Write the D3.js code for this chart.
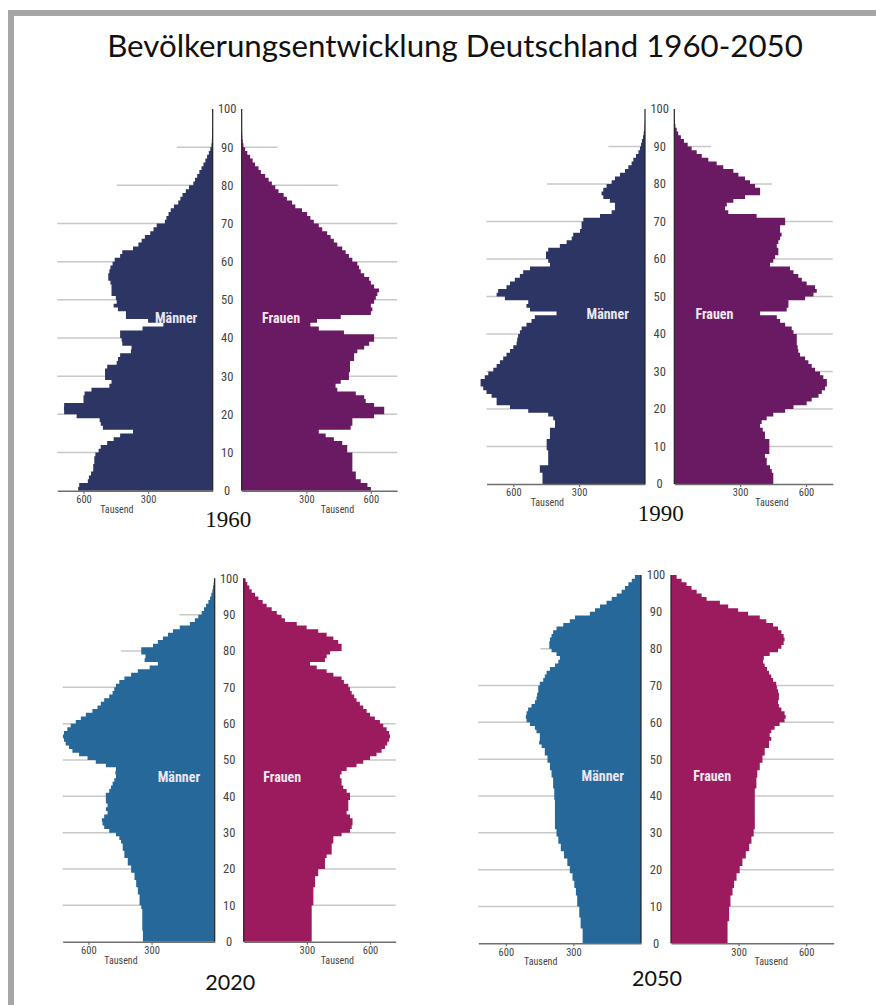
<!DOCTYPE html>
<html>
<head>
<meta charset="utf-8">
<script src="https://cdn.jsdelivr.net/npm/d3@7"></script>
<style>
  body { margin: 0; background: #fff; }
  svg { display: block; }
</style>
</head>
<body>
<svg id="chart"></svg>
<script>
// Population pyramids, Germany 1960 / 1990 / 2020 / 2050.
// Values are thousands of people per single year of age (0..99).

var title = 'Bevölkerungsentwicklung Deutschland 1960-2050'
var years = ['1960', '1990', '2020', '2050']
var tickValues = [300, 600]
var ageTicks = [0, 10, 20, 30, 40, 50, 60, 70, 80, 90, 100]
var unitLabel = 'Tausend'
var menLabel = 'Männer'
var womenLabel = 'Frauen'

var men1960 = [625, 620, 580, 575, 565, 555, 555, 550, 550, 545,
  530, 520, 490, 460, 430, 370, 510, 520, 525, 632,
  690, 691, 690, 600, 600, 595, 563, 480, 470, 500,
  500, 500, 490, 446, 440, 430, 380, 377, 420, 423,
  430, 430, 326, 229, 300, 403, 403, 440, 460, 446,
  450, 470, 470, 470, 475, 485, 485, 480, 475, 465,
  455, 430, 420, 370, 345, 330, 315, 290, 275, 260,
  222, 215, 205, 195, 180, 160, 150, 140, 125, 110,
  90, 82, 72, 62, 52, 43, 34, 26, 18, 11,
  6, 4, 3, 2, 1, 0, 0, 0, 0, 0]
var women1960 = [600, 584, 553, 530, 530, 514, 514, 514, 514, 514,
  490, 490, 467, 428, 390, 358, 506, 514, 514, 615,
  662, 662, 615, 576, 569, 530, 444, 436, 460, 498,
  498, 503, 503, 503, 522, 522, 537, 569, 592, 615,
  615, 475, 358, 319, 350, 460, 600, 607, 600, 615,
  623, 630, 638, 615, 600, 592, 569, 553, 545, 537,
  514, 498, 483, 467, 444, 428, 413, 397, 374, 358,
  335, 319, 304, 280, 249, 234, 210, 195, 171, 156,
  140, 125, 109, 89, 78, 62, 51, 39, 26, 16,
  8, 5, 3, 2, 1, 0, 0, 0, 0, 0]

var men1990 = [467, 467, 467, 479, 479, 441, 441, 441, 441, 448,
  448, 448, 433, 433, 433, 410, 410, 418, 441, 532,
  615, 676, 676, 699, 722, 737, 749, 749, 730, 714,
  691, 676, 661, 646, 631, 615, 600, 585, 582, 578,
  570, 562, 540, 517, 502, 403, 524, 540, 532, 638,
  676, 669, 631, 615, 593, 570, 555, 524, 433, 441,
  451, 451, 441, 388, 357, 334, 327, 296, 289, 289,
  281, 205, 152, 137, 137, 160, 190, 198, 190, 175,
  152, 137, 114, 91, 76, 61, 53, 41, 30, 23,
  18, 14, 9, 6, 3, 2, 1, 0, 0, 0]
var women1990 = [451, 451, 451, 444, 436, 421, 421, 413, 433, 433,
  433, 433, 413, 413, 403, 391, 398, 421, 451, 505,
  543, 603, 626, 657, 672, 687, 695, 695, 679, 664,
  641, 626, 611, 596, 573, 565, 562, 558, 558, 558,
  543, 535, 505, 482, 467, 391, 512, 520, 520, 596,
  634, 649, 641, 603, 581, 565, 543, 527, 436, 451,
  459, 474, 474, 467, 474, 482, 489, 482, 482, 505,
  505, 375, 246, 231, 239, 269, 322, 391, 391, 368,
  345, 322, 292, 269, 223, 193, 155, 125, 102, 79,
  61, 44, 30, 18, 11, 5, 2, 1, 0, 0]

var men2020 = [341, 341, 341, 344, 344, 344, 344, 344, 344, 349,
  357, 357, 357, 365, 365, 373, 373, 381, 381, 397,
  397, 413, 413, 429, 429, 437, 437, 445, 453, 469,
  501, 525, 533, 536, 525, 509, 517, 509, 517, 517,
  517, 501, 493, 485, 477, 469, 472, 469, 517, 565,
  604, 644, 676, 692, 708, 716, 721, 716, 700, 684,
  660, 636, 612, 581, 557, 541, 525, 501, 485, 477,
  469, 453, 429, 397, 365, 309, 270, 333, 329, 349,
  349, 293, 270, 246, 222, 198, 166, 118, 94, 78,
  62, 51, 41, 30, 22, 16, 11, 8, 5, 3]
var women2020 = [323, 323, 323, 323, 323, 323, 323, 323, 323, 323,
  331, 331, 331, 331, 331, 339, 339, 339, 354, 354,
  386, 386, 386, 394, 418, 418, 418, 426, 426, 465,
  505, 513, 517, 517, 505, 489, 497, 497, 497, 505,
  505, 489, 473, 465, 465, 457, 465, 489, 536, 568,
  600, 631, 655, 671, 682, 691, 695, 691, 679, 663,
  647, 623, 600, 584, 568, 552, 536, 525, 513, 505,
  497, 476, 465, 426, 394, 347, 315, 386, 394, 410,
  465, 465, 449, 426, 394, 354, 299, 252, 196, 180,
  157, 133, 109, 90, 70, 54, 38, 27, 17, 9]

var men2050 = [259, 259, 259, 259, 268, 268, 268, 274, 274, 274,
  283, 283, 283, 289, 289, 296, 296, 304, 304, 316,
  316, 327, 327, 342, 342, 356, 356, 367, 367, 375,
  375, 382, 382, 382, 382, 382, 382, 382, 382, 385,
  385, 385, 390, 390, 390, 397, 397, 404, 404, 415,
  415, 427, 427, 441, 452, 449, 449, 464, 471, 493,
  508, 511, 508, 501, 486, 471, 464, 461, 456, 456,
  449, 434, 427, 419, 404, 382, 367, 360, 375, 397,
  407, 407, 404, 397, 390, 375, 345, 316, 293, 227,
  204, 182, 153, 130, 108, 86, 71, 56, 41, 27]
var women2050 = [251, 251, 251, 251, 251, 251, 258, 258, 258, 258,
  264, 264, 264, 273, 273, 280, 280, 291, 291, 305,
  305, 317, 317, 332, 332, 347, 347, 357, 357, 367,
  367, 372, 372, 372, 372, 372, 372, 372, 372, 372,
  372, 372, 379, 379, 379, 383, 383, 394, 394, 406,
  406, 416, 416, 435, 435, 445, 438, 445, 460, 482,
  504, 509, 504, 490, 479, 475, 479, 479, 475, 470,
  467, 453, 445, 435, 426, 416, 409, 412, 438, 475,
  490, 500, 504, 500, 490, 475, 453, 423, 394, 342,
  298, 254, 217, 158, 136, 114, 91, 69, 47, 25]

// Grid lines at 80 and 90 are shorter in the source; their reach in thousands.
var gridReach = {80: 446, 90: 167}
var axisMax = 722

// Panel placement (pixels) and colours.
var panels = [
  {year: years[0], men: men1960, women: women1960, axisM: 212.7, axisF: 241.7, y0: 490.7, y100: 109, ppk: 0.2153, yearY: 527, serif: true, cM: '#2c3563', cF: '#691a62'},
  {year: years[1], men: men1990, women: women1990, axisM: 645, axisF: 674.3, y0: 484, y100: 109, ppk: 0.2195, yearY: 521, serif: true, cM: '#2c3563', cF: '#691a62'},
  {year: years[2], men: men2020, women: women2020, axisM: 214.7, axisF: 243.7, y0: 941.7, y100: 578.3, ppk: 0.2105, yearY: 990, serif: false, cM: '#256899', cF: '#9b1b5e'},
  {year: years[3], men: men2050, women: women2050, axisM: 641, axisF: 671, y0: 943.3, y100: 575, ppk: 0.2253, yearY: 986, serif: false, cM: '#256899', cF: '#9b1b5e'}
]

var narrow = '"Liberation Sans Narrow", "Arial Narrow", "Roboto Condensed", "Liberation Sans", sans-serif'

var svg = d3.select('#chart').attr('width', 876).attr('height', 1005)

// Frame
svg.append('rect').attr('x', 8).attr('y', 10).attr('width', 868).attr('height', 6).attr('fill', '#a6a6a6')
svg.append('rect').attr('x', 8).attr('y', 10).attr('width', 6).attr('height', 995).attr('fill', '#a6a6a6')

// Title, fitted to the width it has in the source
var titleText = svg.append('text')
  .attr('x', 455).attr('y', 57)
  .attr('text-anchor', 'middle')
  .attr('font-family', 'Lato, "Open Sans", sans-serif')
  .attr('font-size', 30)
  .attr('fill', '#111')
  .text(title)
var tw = titleText.node().getComputedTextLength()
titleText.attr('font-size', 30 * 696 / tw)

function drawPanel (p) {
  var g = svg.append('g')
  var y = d3.scaleLinear().domain([0, 100]).range([p.y0, p.y100])
  var xM = d3.scaleLinear().domain([0, axisMax]).range([p.axisM, p.axisM - axisMax * p.ppk])
  var xF = d3.scaleLinear().domain([0, axisMax]).range([p.axisF, p.axisF + axisMax * p.ppk])

  // grid lines behind the bars
  var gridAges = ageTicks.filter(function (a) { return a > 0 && a < 100 })
  gridAges.forEach(function (a) {
    var reach = gridReach[a] || axisMax
    g.append('line')
      .attr('x1', xM(reach)).attr('x2', xM(0))
      .attr('y1', y(a)).attr('y2', y(a))
      .attr('stroke', '#c8c8c8').attr('stroke-width', 1.5)
    g.append('line')
      .attr('x1', xF(0)).attr('x2', xF(reach))
      .attr('y1', y(a)).attr('y2', y(a))
      .attr('stroke', '#c8c8c8').attr('stroke-width', 1.5)
  })

  // step outline: bar for age a spans a..a+1
  function pts (vals) {
    var out = vals.map(function (v, i) { return {age: i, v: v} })
    out.push({age: vals.length, v: vals[vals.length - 1]})
    return out
  }
  var areaM = d3.area().curve(d3.curveStepBefore)
    .y(function (d) { return y(d.age) })
    .x0(xM(0))
    .x1(function (d) { return xM(d.v) })
  var areaF = d3.area().curve(d3.curveStepBefore)
    .y(function (d) { return y(d.age) })
    .x0(xF(0))
    .x1(function (d) { return xF(d.v) })
  g.append('path').datum(pts(p.men)).attr('d', areaM).attr('fill', p.cM)
  g.append('path').datum(pts(p.women)).attr('d', areaF).attr('fill', p.cF)

  // vertical axis lines
  g.append('line').attr('x1', p.axisM).attr('x2', p.axisM).attr('y1', y(0)).attr('y2', y(100))
    .attr('stroke', '#222').attr('stroke-width', 1.2)
  g.append('line').attr('x1', p.axisF).attr('x2', p.axisF).attr('y1', y(0)).attr('y2', y(100))
    .attr('stroke', '#222').attr('stroke-width', 1.2)

  // age labels in the middle
  var cx = (p.axisM + p.axisF) / 2
  g.selectAll('text.age').data(ageTicks).enter().append('text')
    .attr('class', 'age')
    .attr('x', cx).attr('y', function (d) { return y(d) })
    .attr('dy', '0.35em')
    .attr('text-anchor', 'middle')
    .attr('font-family', narrow)
    .attr('font-size', 12.5)
    .attr('fill', '#444')
    .text(function (d) { return d })

  // bottom axes
  var axM = g.append('g').attr('transform', 'translate(0,' + y(0) + ')')
    .call(d3.axisBottom(xM).tickValues(tickValues).tickSize(3).tickSizeOuter(0).tickPadding(2))
  var axF = g.append('g').attr('transform', 'translate(0,' + y(0) + ')')
    .call(d3.axisBottom(xF).tickValues(tickValues).tickSize(3).tickSizeOuter(0).tickPadding(2))
  ;[axM, axF].forEach(function (ax) {
    ax.select('.domain').attr('stroke', '#6e6e6e').attr('stroke-width', 1.6)
    ax.selectAll('.tick line').attr('stroke', '#6e6e6e').attr('stroke-width', 1.2)
    ax.selectAll('.tick text').attr('fill', '#444').attr('font-family', narrow).attr('font-size', 10.5)
  })
  g.append('text').attr('x', xM(445)).attr('y', y(0) + 22)
    .attr('text-anchor', 'middle').attr('font-family', narrow).attr('font-size', 10)
    .attr('fill', '#444').text(unitLabel)
  g.append('text').attr('x', xF(445)).attr('y', y(0) + 22)
    .attr('text-anchor', 'middle').attr('font-family', narrow).attr('font-size', 10)
    .attr('fill', '#444').text(unitLabel)

  // sex labels on the bars
  g.append('text').attr('x', xM(170)).attr('y', y(45.3)).attr('dy', '0.35em')
    .attr('text-anchor', 'middle').attr('font-family', narrow).attr('font-weight', 'bold')
    .attr('font-size', 14).attr('fill', '#ebe7f2').text(menLabel)
  g.append('text').attr('x', xF(183)).attr('y', y(45.3)).attr('dy', '0.35em')
    .attr('text-anchor', 'middle').attr('font-family', narrow).attr('font-weight', 'bold')
    .attr('font-size', 14).attr('fill', '#f2e8f0').text(womenLabel)

  // year caption
  g.append('text').attr('x', cx + 1).attr('y', p.yearY)
    .attr('text-anchor', 'middle')
    .attr('font-family', p.serif ? '"Liberation Serif", "DejaVu Serif", serif' : 'Lato, "Open Sans", sans-serif')
    .attr('font-size', p.serif ? 23 : 21.5)
    .attr('fill', '#111')
    .text(p.year)
}

panels.forEach(drawPanel)
</script>
</body>
</html>
